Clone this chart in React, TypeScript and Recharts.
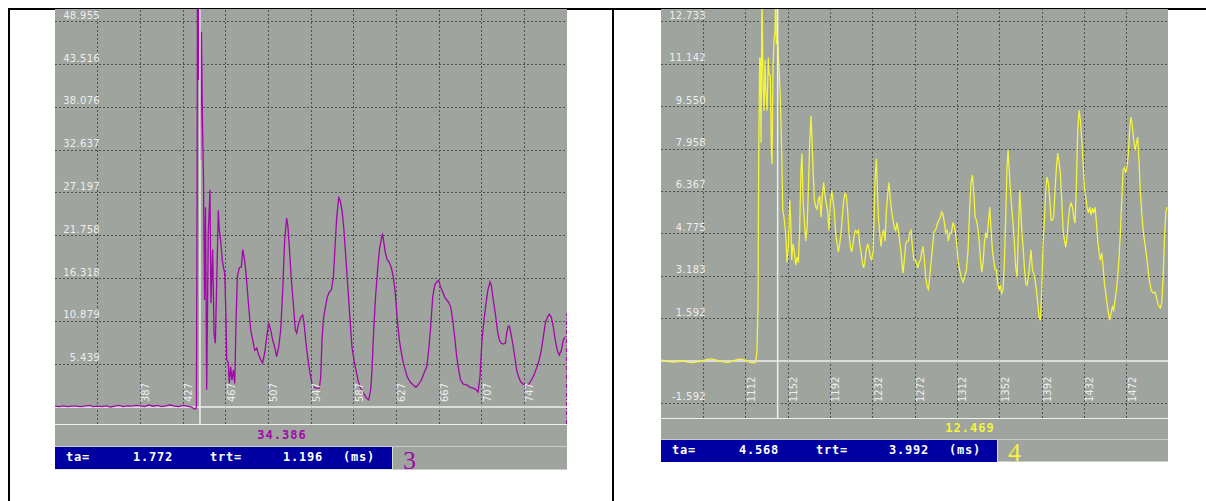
import { LineChart, Line, XAxis, YAxis, ReferenceLine } from "recharts";

// --- Channel 3 (left scope) ---

const CH3_LEVELS = [5.439, 10.879, 16.318, 21.758, 27.197, 32.637, 38.076, 43.516, 48.955];
const CH3_SAMPLES = [387, 427, 467, 507, 547, 587, 627, 667, 707, 747];
const CH3_GRID_SAMPLES = [347, ...CH3_SAMPLES];
const CH3_Y_RANGE: [number, number] = [-2.16, 50.58];
const CH3_X_RANGE: [number, number] = [307, 787];
const CH3_CURSOR = 442.9;
const CH3_MARKER = 786.5;
const CH3_PEAK = "34.386";
const CH3_TA = "1.772";
const CH3_TRT = "1.196";

// [sample, value]
const CH3_TRACE: [number, number][] = [
    [307, 0.1], [311, 0.05], [315, 0.15], [319, 0.05], [323, 0.1], [327, 0.12], [331, 0.05], [335, 0.1],
    [339, 0.2], [343, 0.05], [347, 0.1], [351, 0.05], [355, 0.15], [359, 0.0], [363, 0.1], [367, 0.2],
    [371, 0.05], [375, 0.15], [379, 0.1], [383, 0.2], [387, 0.15], [391, 0.05], [395, 0.25], [399, 0.1],
    [403, 0.2], [407, 0.05], [411, 0.15], [415, 0.25], [419, 0.1], [423, 0.05], [427, 0.2], [431, 0.1],
    [435, 0.0], [437, -0.2], [439, -0.25],
    [439.6, 0.1], [440.2, 26.0], [440.6, 60], [441.5, 41.6], [442.4, 60], [443.4, 31.4], [444.3, 47.7],
    [445.3, 35.8], [446.2, 29.2], [447.2, 13.6], [448.1, 25.4], [449.2, 2.2], [450.7, 22.1], [452.3, 27.6],
    [453.2, 13.2], [454.8, 20.0], [456.1, 9.4], [457.3, 8.1], [458.6, 15.8], [460.1, 25.0], [461.0, 22.5],
    [462.3, 21.2], [463.8, 18.7], [464.8, 17.8], [466.1, 17.0], [467.3, 11.4], [468.0, 6.0], [469.5, 5.6],
    [470.4, 3.0], [471.7, 5.1], [472.9, 3.4], [474.2, 4.7], [475.5, 3.0], [476.7, 10.7], [477.9, 16.5],
    [479.8, 17.7], [481.7, 17.8], [483.0, 20.0], [484.2, 19.1], [485.5, 17.8], [486.8, 15.8], [488.6, 12.7],
    [490.5, 9.8], [492.4, 8.5], [494.2, 7.2], [496.1, 7.5], [498.0, 6.6], [499.8, 6.0], [501.7, 5.6],
    [503.6, 6.9], [505.5, 8.9], [507.3, 10.7], [509.2, 9.8], [511.1, 8.5], [513.0, 7.6], [514.8, 6.4],
    [516.7, 7.6], [518.6, 9.8], [520.5, 14.9], [522.3, 21.2], [524.2, 24.0], [525.4, 22.9], [526.7, 20.3],
    [528.6, 16.1], [530.4, 13.2], [532.3, 9.8], [533.6, 9.4], [535.5, 10.7], [537.4, 11.4], [539.2, 11.7],
    [540.4, 10.7], [542.3, 8.1], [544.2, 6.0], [546.1, 4.3], [547.9, 3.0], [549.8, 2.5], [552.3, 2.4],
    [554.8, 2.4], [556.1, 3.8], [557.3, 8.5], [558.6, 11.1], [560.5, 12.7], [562.3, 14.0], [564.2, 14.6],
    [566.1, 14.9], [568.0, 16.5], [569.5, 20.3], [571.1, 24.1], [573.0, 26.6], [574.2, 26.3], [576.1, 25.0],
    [577.9, 22.5], [579.8, 18.7], [581.7, 14.9], [583.6, 11.1], [585.4, 7.6], [587.3, 6.0], [589.2, 4.7],
    [591.1, 3.4], [592.9, 2.5], [596.0, 1.8], [599.2, 1.1], [601.1, 0.9], [603.0, 2.2], [604.2, 4.7],
    [605.5, 8.9], [607.3, 13.6], [609.2, 17.0], [611.1, 20.0], [613.3, 21.6], [614.2, 21.9], [615.4, 20.8],
    [616.7, 19.6], [618.5, 18.7], [620.4, 18.4], [622.3, 17.7], [624.2, 16.5], [626.0, 14.5], [627.9, 11.1],
    [629.8, 8.5], [631.7, 6.9], [633.5, 5.6], [635.4, 4.7], [637.3, 3.8], [639.8, 3.2], [642.9, 2.8],
    [645.4, 2.5], [647.9, 2.9], [650.4, 3.4], [652.9, 4.3], [655.5, 5.1], [657.3, 7.2], [659.2, 10.2],
    [661.1, 14.0], [663.0, 15.5], [664.8, 15.9], [666.7, 16.1], [668.6, 15.2], [670.5, 14.6], [672.3, 14.0],
    [674.2, 13.6], [676.1, 13.3], [678.0, 12.7], [679.8, 11.1], [681.7, 8.9], [683.6, 6.4], [685.5, 4.7],
    [687.3, 3.4], [689.8, 2.9], [693.0, 2.8], [696.1, 2.5], [699.2, 2.4], [701.7, 2.2], [703.6, 1.9],
    [705.4, 3.8], [707.3, 8.5], [709.2, 11.1], [711.1, 13.2], [712.9, 14.9], [714.8, 15.9], [716.0, 15.5],
    [717.9, 13.6], [719.8, 11.9], [721.7, 9.8], [723.5, 8.5], [725.4, 8.1], [727.3, 8.0], [729.2, 8.1],
    [730.5, 9.4], [731.7, 10.2], [732.9, 10.3], [734.2, 9.5], [736.1, 8.1], [738.0, 6.4], [739.8, 4.7],
    [741.7, 3.8], [743.6, 3.2], [746.0, 2.9], [748.6, 2.8], [751.1, 2.9], [753.5, 3.4], [756.1, 4.1],
    [758.6, 5.0], [761.0, 6.0], [762.9, 7.2], [764.8, 8.9], [766.7, 10.7], [768.6, 11.4], [770.4, 11.8],
    [772.3, 11.4], [774.2, 10.2], [776.0, 8.5], [777.9, 7.2], [779.8, 6.6], [781.7, 7.2], [783.5, 8.5],
    [785.4, 8.9],
];

// --- Channel 4 (right scope) ---

const CH4_LEVELS = [-1.592, 1.592, 3.183, 4.775, 6.367, 7.958, 9.55, 11.142, 12.733];
const CH4_SAMPLES = [1112, 1152, 1192, 1232, 1272, 1312, 1352, 1392, 1432, 1472];
const CH4_GRID_SAMPLES = [1072, ...CH4_SAMPLES];
const CH4_Y_RANGE: [number, number] = [-2.14, 13.22];
const CH4_X_RANGE: [number, number] = [1032, 1511];
const CH4_CURSOR = 1142.2;
const CH4_PEAK = "12.469";
const CH4_TA = "4.568";
const CH4_TRT = "3.992";

const CH4_TRACE: [number, number][] = [
    [1032, 0.04], [1036, 0.0], [1040, -0.02], [1043.3, -0.04], [1048, -0.02], [1052.8, 0], [1057, -0.04],
    [1062.2, -0.06], [1066, -0.03], [1071.7, 0], [1075, 0.05], [1079.6, 0.08], [1083, 0.05], [1087.4, 0],
    [1091, -0.03], [1095.3, -0.06], [1099, -0.01], [1103.2, 0.04], [1106, 0.07], [1108.9, 0.06], [1112, 0.02],
    [1115.8, -0.04], [1119, -0.07], [1121.4, -0.06],
    [1122.7, 0.4], [1123.7, 2.2], [1124.3, 7.5], [1125.2, 11.4], [1125.9, 11.3], [1126.5, 8.2], [1127.4, 14],
    [1128.4, 10.4], [1129.3, 9.4], [1130.3, 11.3], [1130.9, 10.3], [1132.2, 9.4], [1133.4, 11.4], [1134.0, 10.8],
    [1135.3, 10.7], [1136.3, 7.8], [1136.9, 7.4], [1137.8, 11.0], [1138.8, 12.05], [1139.7, 12.35], [1140.4, 14],
    [1141.0, 11.9], [1142.2, 12.05], [1143.5, 11.0], [1144.8, 9.8], [1146.0, 7.9], [1147.0, 5.7], [1148.2, 5.4],
    [1149.8, 4.8], [1151.1, 3.7], [1152.3, 4.3], [1153.6, 6.05], [1154.5, 5.3], [1155.5, 3.8], [1156.7, 4.4],
    [1158.0, 4.1], [1159.3, 3.6], [1160.5, 3.9], [1161.8, 3.7], [1163.0, 5.0], [1164.3, 7.2], [1165.2, 7.8],
    [1166.2, 6.05], [1167.4, 5.3], [1168.7, 4.5], [1170.0, 5.0], [1171.2, 6.4], [1172.5, 8.2], [1173.7, 9.2],
    [1174.7, 8.3], [1175.6, 7.2], [1176.9, 6.05], [1178.1, 5.8], [1179.4, 5.7], [1180.7, 6.05], [1181.9, 6.2],
    [1183.2, 5.4], [1184.4, 6.2], [1185.7, 6.7], [1187.0, 6.2], [1188.2, 5.9], [1189.5, 5.6], [1190.7, 4.9],
    [1192.0, 5.9], [1193.3, 6.4], [1194.5, 6.05], [1195.8, 5.6], [1197.0, 4.8], [1198.3, 4.4], [1199.6, 4.1],
    [1200.8, 4.4], [1202.1, 4.8], [1203.3, 5.4], [1204.6, 6.05], [1205.9, 6.3], [1207.1, 6.2], [1208.4, 5.6],
    [1209.6, 4.8], [1210.9, 4.3], [1212.2, 4.1], [1213.4, 4.4], [1214.7, 4.8], [1215.9, 4.9], [1217.2, 4.8],
    [1218.5, 4.9], [1219.7, 4.4], [1221.0, 4.1], [1222.2, 3.7], [1223.5, 3.5], [1224.8, 3.8], [1226.0, 4.2],
    [1227.3, 4.4], [1228.5, 4.2], [1229.8, 3.9], [1231.1, 3.8], [1232.3, 4.1], [1233.3, 5.3], [1234.2, 6.8],
    [1235.5, 7.6], [1236.4, 6.5], [1237.4, 5.4], [1238.6, 4.8], [1239.9, 4.3], [1241.1, 4.8], [1242.4, 4.9],
    [1243.7, 4.5], [1244.9, 5.6], [1246.2, 6.3], [1247.4, 6.7], [1248.7, 6.05], [1250.0, 5.6], [1251.2, 5.3],
    [1252.5, 5.0], [1253.7, 4.9], [1255.0, 5.2], [1256.3, 4.9], [1257.5, 4.5], [1258.8, 4.1], [1260.0, 3.5],
    [1260.7, 3.3], [1261.9, 3.8], [1263.2, 4.4], [1264.5, 4.5], [1265.7, 4.5], [1267.0, 4.8], [1268.2, 4.9],
    [1269.5, 4.3], [1270.8, 3.8], [1272.0, 3.8], [1273.3, 3.7], [1274.5, 3.5], [1275.8, 3.7], [1277.1, 3.8],
    [1278.3, 4.1], [1279.6, 4.3], [1280.8, 3.8], [1282.1, 3.15], [1283.4, 2.8], [1284.6, 2.7], [1285.9, 3.15],
    [1287.1, 3.7], [1288.4, 4.2], [1289.7, 4.8], [1290.9, 4.9], [1292.2, 5.0], [1293.4, 5.2], [1294.7, 5.3],
    [1296.0, 5.4], [1297.2, 5.6], [1298.5, 5.5], [1299.7, 5.2], [1301.0, 4.8], [1302.3, 4.9], [1303.5, 4.5],
    [1304.8, 4.8], [1306.3, 4.8], [1307.9, 5.2], [1309.5, 5.0], [1311.1, 4.5], [1312.6, 3.8], [1314.2, 3.4],
    [1315.8, 3.15], [1317.4, 2.97], [1318.9, 3.15], [1320.5, 3.4], [1322.1, 4.17], [1323.7, 5.78], [1324.9, 6.68],
    [1326.2, 6.98], [1327.4, 6.42], [1328.7, 5.41], [1330.0, 5.29], [1331.2, 5.03], [1332.5, 4.54], [1333.7, 3.9],
    [1335.0, 3.34], [1336.3, 3.68], [1337.5, 4.43], [1338.8, 4.81], [1340.0, 4.62], [1341.3, 5.18], [1342.6, 5.78],
    [1343.8, 4.92], [1345.1, 4.17], [1346.3, 3.79], [1347.6, 3.42], [1348.9, 3.42], [1350.1, 2.93], [1351.4, 2.67],
    [1352.6, 2.85], [1353.9, 2.55], [1355.2, 2.67], [1356.4, 3.68], [1357.7, 5.41], [1358.9, 7.28], [1359.9, 7.92],
    [1360.8, 7.28], [1362.1, 6.42], [1363.3, 5.78], [1364.6, 5.18], [1365.9, 4.43], [1367.1, 3.53], [1368.4, 3.15],
    [1369.7, 4.92], [1370.9, 6.42], [1371.9, 5.67], [1372.8, 4.92], [1374.1, 4.28], [1375.3, 3.53], [1376.6, 2.93],
    [1377.8, 2.85], [1379.1, 3.15], [1380.4, 3.68], [1381.6, 4.17], [1382.9, 3.42], [1384.1, 3.3], [1385.4, 3.04],
    [1386.7, 2.67], [1387.9, 2.18], [1389.2, 1.65], [1390.4, 1.54], [1391.7, 2.67], [1393.0, 4.43], [1394.2, 5.29],
    [1395.5, 6.42], [1396.7, 6.91], [1398.0, 6.68], [1399.3, 6.05], [1400.5, 5.29], [1401.8, 5.29], [1403.0, 5.41],
    [1404.3, 6.42], [1405.6, 7.28], [1406.8, 7.81], [1408.1, 7.43], [1409.3, 7.06], [1410.6, 6.05], [1411.9, 4.92],
    [1413.1, 4.54], [1414.4, 4.28], [1415.6, 4.66], [1416.9, 5.29], [1418.2, 5.78], [1419.4, 5.93], [1420.7, 5.78],
    [1421.9, 5.41], [1423.2, 5.18], [1424.5, 6.68], [1425.7, 8.67], [1427.0, 9.42], [1428.2, 9.05], [1429.5, 8.3],
    [1430.8, 7.43], [1432.0, 6.53], [1433.3, 6.16], [1434.5, 5.78], [1435.8, 5.56], [1437.1, 5.78], [1438.3, 5.48],
    [1439.6, 5.74], [1440.8, 5.56], [1442.1, 5.78], [1443.4, 5.18], [1444.6, 4.54], [1445.9, 4.06], [1447.1, 3.79],
    [1448.4, 4.06], [1449.7, 3.53], [1450.9, 2.93], [1452.2, 2.55], [1453.4, 2.18], [1454.7, 1.8], [1456.0, 1.54],
    [1457.2, 1.8], [1458.5, 2.03], [1459.7, 1.91], [1461.0, 2.29], [1462.3, 2.67], [1463.5, 3.15], [1464.8, 3.9],
    [1466.0, 4.81], [1467.3, 6.05], [1468.6, 7.17], [1469.8, 7.25], [1471.1, 7.06], [1472.3, 7.28], [1473.6, 7.81],
    [1474.9, 8.79], [1476.1, 9.16], [1477.4, 8.79], [1478.6, 8.3], [1479.9, 7.92], [1481.2, 8.19], [1482.4, 8.41],
    [1483.7, 7.43], [1484.9, 6.31], [1486.2, 5.56], [1487.5, 4.92], [1488.7, 4.54], [1490.0, 4.17], [1491.2, 3.79],
    [1492.5, 3.3], [1493.8, 2.93], [1495.0, 2.67], [1496.3, 2.59], [1497.5, 2.55], [1498.8, 2.59], [1500.1, 2.4],
    [1501.3, 2.18], [1502.6, 2.03], [1503.8, 1.99], [1505.1, 2.18], [1506.4, 3.15], [1507.6, 4.54], [1508.9, 5.56],
    [1510.1, 5.78],
];

// --- Styling ---

const SCREEN_GRAY = "#9fa49e";
const GRID_DOT = "#4e514d";
const TRACE_WHITE = "#eef0ec";
const LABEL_WHITE = "#eeeeee";
const STATUS_BLUE = "#0000a2";
const LABEL_FONT = "'DejaVu Sans', sans-serif";
const READOUT_FONT = "'DejaVu Sans Mono', monospace";

// status bar column offsets inside the blue strip
const STATUS_COLUMNS = [11, 78, 155, 228, 288];

interface ViewBox
{
    x?: number;
    y?: number;
    width?: number;
    height?: number;
}

// label for a horizontal level line, right-aligned just above it
function levelLabel(value: number)
{
    return (props: { viewBox?: ViewBox }) =>
    {
        const vb = props.viewBox ?? {};
        return (
            <text x={(vb.x ?? 0) + 45} y={(vb.y ?? 0) - 3} textAnchor="end" fill={LABEL_WHITE}
                fontSize={10} fontFamily={LABEL_FONT} letterSpacing={0.3}>
                {value.toFixed(3)}
            </text>
        );
    };
}

// rotated sample index next to a vertical grid line
function sampleLabel(value: number)
{
    return (props: { viewBox?: ViewBox }) =>
    {
        const vb = props.viewBox ?? {};
        return (
            <text transform={`translate(${(vb.x ?? 0) + 9}, ${(vb.y ?? 0) + 393}) rotate(-90)`}
                textAnchor="start" fill={LABEL_WHITE} fontSize={10} fontFamily={LABEL_FONT}>
                {value}
            </text>
        );
    };
}

interface ScopeProps
{
    left: number;
    width: number;
    plotHeight: number;
    bandHeight: number;
    barHeight: number;
    barWidth: number;
    color: string;
    trace: [number, number][];
    xRange: [number, number];
    yRange: [number, number];
    levels: number[];
    samples: number[];
    gridSamples: number[];
    cursor: number;
    marker?: number;
    markerTop?: number;
    peak: string;
    peakX: number;
    ta: string;
    trt: string;
    channel: string;
    barEdge: boolean;
}

function Scope(props: ScopeProps)
{
    const {
        left, width, plotHeight, bandHeight, barHeight, barWidth, color, trace,
        xRange, yRange, levels, samples, gridSamples, cursor, marker, markerTop,
        peak, peakX, ta, trt, channel, barEdge,
    } = props;

    const data = trace.map(([s, v]) => ({ s, v }));
    const statusText = ["ta=", ta, "trt=", trt, "(ms)"];
    const total = plotHeight + bandHeight + barHeight;

    return (
        <div style={{ position: "absolute", left, top: 9, width, height: total, background: SCREEN_GRAY }}>
            <LineChart width={width} height={plotHeight} data={data}
                margin={{ top: 0, right: 0, bottom: 0, left: 0 }}>
                <XAxis type="number" dataKey="s" domain={xRange} ticks={samples} height={0}
                    axisLine={false} tickLine={false} tick={false} allowDataOverflow />
                <YAxis type="number" domain={yRange} ticks={levels} width={0}
                    axisLine={false} tickLine={false} tick={false} allowDataOverflow />

                {/* dotted graticule */}
                {gridSamples.map((s) => (
                    <ReferenceLine key={`v${s}`} x={s} stroke={GRID_DOT} strokeDasharray="2 2"
                        shapeRendering="crispEdges" />
                ))}
                {levels.map((v) => (
                    <ReferenceLine key={`h${v}`} y={v} stroke={GRID_DOT} strokeDasharray="2 2"
                        shapeRendering="crispEdges" />
                ))}
                <ReferenceLine y={0} stroke={TRACE_WHITE} strokeWidth={1.5} />

                <Line type="linear" dataKey="v" stroke={color} strokeWidth={1.3} dot={false}
                    isAnimationActive={false} />

                <ReferenceLine x={cursor} stroke={TRACE_WHITE} strokeWidth={1.5} />
                {marker !== undefined && markerTop !== undefined && (
                    <ReferenceLine
                        segment={[{ x: marker, y: yRange[0] }, { x: marker, y: markerTop }]}
                        stroke={color} strokeDasharray="4 2 1 2" />
                )}

                {/* scale labels sit on top of the trace */}
                {samples.map((s) => (
                    <ReferenceLine key={`vl${s}`} x={s} stroke="none" label={sampleLabel(s)} />
                ))}
                {levels.map((v) => (
                    <ReferenceLine key={`hl${v}`} y={v} stroke="none" label={levelLabel(v)} />
                ))}
            </LineChart>

            {/* readout band under the screen */}
            <div style={{
                position: "absolute", left: 0, top: plotHeight, width, height: bandHeight,
                boxSizing: "border-box", borderTop: `1.5px solid ${TRACE_WHITE}`,
                borderBottom: "1px solid #c8ccc6",
            }}>
                <span style={{
                    position: "absolute", left: peakX, transform: "translateX(-50%)",
                    top: 0, lineHeight: `${bandHeight - 3}px`, color,
                    fontFamily: READOUT_FONT, fontWeight: 700, fontSize: 12, letterSpacing: 1.0,
                }}>
                    {peak}
                </span>
            </div>

            {/* status bar */}
            <div style={{
                position: "absolute", left: 0, top: plotHeight + bandHeight, width: barWidth,
                height: barHeight, background: STATUS_BLUE, boxSizing: "border-box",
                borderRight: "1px solid #d8dcd6",
                borderBottom: barEdge ? "1px solid #e8ecf0" : "none",
            }}>
                {statusText.map((t, i) => (
                    <span key={i} style={{
                        position: "absolute", left: STATUS_COLUMNS[i], top: 0,
                        lineHeight: `${barHeight - 2}px`, color: "#ffffff",
                        fontFamily: READOUT_FONT, fontWeight: 700, fontSize: 12, letterSpacing: 0.8,
                        whiteSpace: "pre",
                    }}>
                        {t}
                    </span>
                ))}
            </div>
            <div style={{
                position: "absolute", left: barWidth, top: plotHeight + bandHeight,
                width: width - barWidth, height: barHeight, boxSizing: "border-box",
                borderBottom: "1px solid #c8ccc6",
            }}>
                <span style={{
                    position: "absolute", left: 10, bottom: -5, color,
                    fontFamily: "'Liberation Serif', serif", fontSize: 26, lineHeight: "26px",
                }}>
                    {channel}
                </span>
            </div>
        </div>
    );
}

export default function App()
{
    return (
        <div style={{ position: "absolute", left: 0, top: 0, width: 1206, height: 501, background: "#ffffff", overflow: "hidden" }}>
            {/* table rules */}
            <div style={{ position: "absolute", left: 8, top: 8, width: 1198, height: 2, background: "#000" }} />
            <div style={{ position: "absolute", left: 8, top: 8, width: 2, height: 493, background: "#000" }} />
            <div style={{ position: "absolute", left: 612, top: 8, width: 2, height: 493, background: "#000" }} />

            <Scope
                left={55} width={512} plotHeight={415} bandHeight={23} barHeight={23} barWidth={338}
                color="#a008a8" trace={CH3_TRACE} xRange={CH3_X_RANGE} yRange={CH3_Y_RANGE}
                levels={CH3_LEVELS} samples={CH3_SAMPLES} gridSamples={CH3_GRID_SAMPLES}
                cursor={CH3_CURSOR} marker={CH3_MARKER} markerTop={11.9}
                peak={CH3_PEAK} peakX={227} ta={CH3_TA} trt={CH3_TRT} channel="3" barEdge
            />
            <Scope
                left={661} width={507} plotHeight={409} bandHeight={22} barHeight={22} barWidth={337}
                color="#f4f43c" trace={CH4_TRACE} xRange={CH4_X_RANGE} yRange={CH4_Y_RANGE}
                levels={CH4_LEVELS} samples={CH4_SAMPLES} gridSamples={CH4_GRID_SAMPLES}
                cursor={CH4_CURSOR}
                peak={CH4_PEAK} peakX={309} ta={CH4_TA} trt={CH4_TRT} channel="4" barEdge={false}
            />
        </div>
    );
}
